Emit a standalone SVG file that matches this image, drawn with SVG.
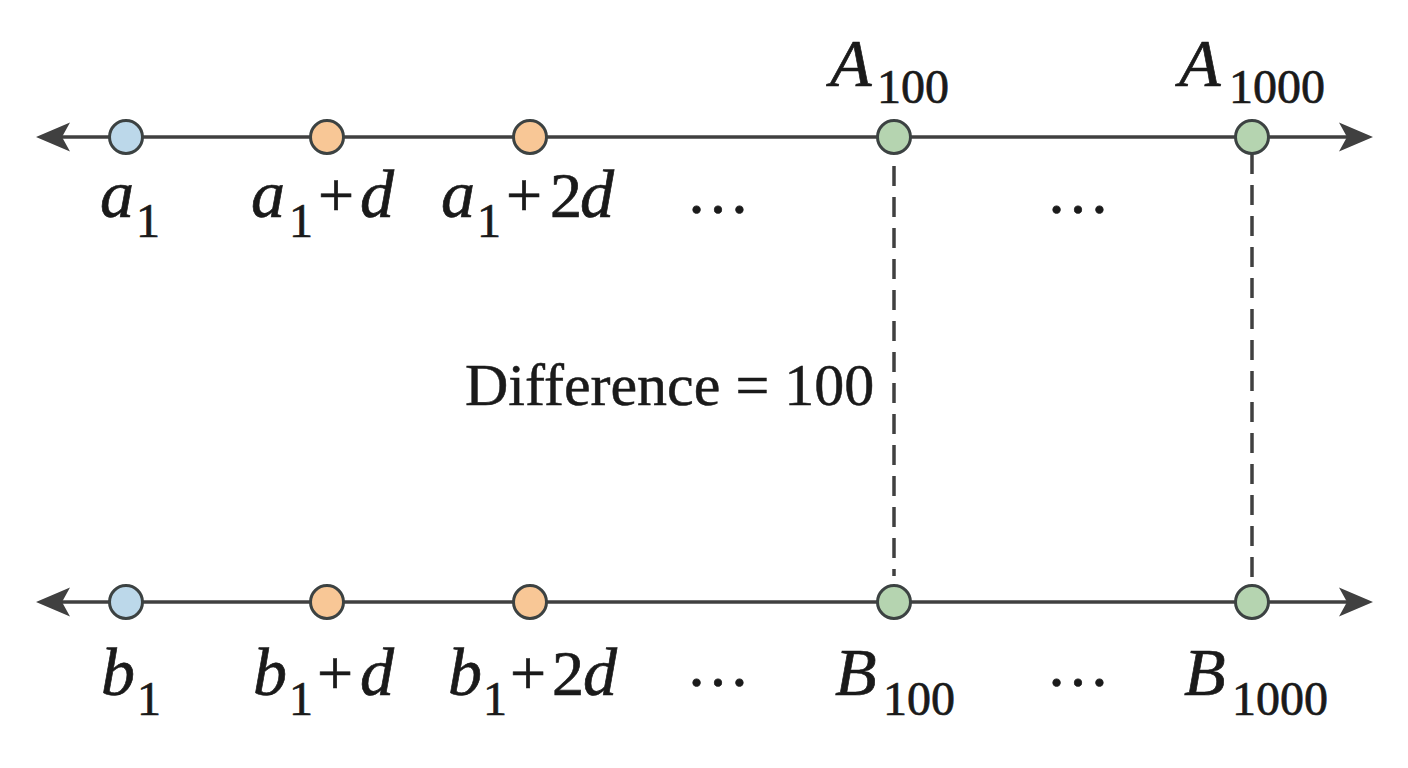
<svg xmlns="http://www.w3.org/2000/svg" width="1408" height="768" viewBox="0 0 1408 768">
<style>
.axis{stroke:#404040;stroke-width:3.5;fill:none}
.dash{stroke:#404040;stroke-width:3.5;stroke-dasharray:20 11;fill:none}
.head{fill:#404040}
.pt{stroke:#3c4242;stroke-width:3}
.blue{fill:#bcd8ea}
.orange{fill:#f8c796}
.green{fill:#b5d4b0}
text{fill:#1a1a1a;stroke:#1a1a1a;stroke-width:0.7}
.lab{font-size:64px}
.i{font-style:italic;font-size:68px}
.sub{font-size:48px;font-style:normal}
.plain{font-size:60px;stroke-width:0.5}
</style>
<rect width="1408" height="768" fill="#ffffff"/>
<g id="connectors">
<line class="axis" x1="60" y1="137" x2="1350" y2="137"/>
<polygon class="head" points="36,137 70,122.5 62,137 70,151.5"/>
<polygon class="head" points="1373,137 1339,122.5 1347,137 1339,151.5"/>
<line class="axis" x1="60" y1="602" x2="1350" y2="602"/>
<polygon class="head" points="36,602 70,587.5 62,602 70,616.5"/>
<polygon class="head" points="1373,602 1339,587.5 1347,602 1339,616.5"/>
<line class="dash" x1="894" y1="166" x2="894" y2="576"/>
<line class="dash" x1="1252" y1="154" x2="1252" y2="585"/>
</g>
<g id="labels" font-family="Liberation Serif, serif">
<g id="a1"><circle class="pt blue" cx="126" cy="137" r="16.5"/>
<text class="lab"><tspan class="i" x="100" y="217">a</tspan><tspan class="sub" x="136" y="237">1</tspan></text></g>
<g id="a1d"><circle class="pt orange" cx="327" cy="137" r="16.5"/>
<text class="lab"><tspan class="i" x="251" y="217">a</tspan><tspan class="sub" x="289" y="237">1</tspan><tspan x="318" y="217">+</tspan><tspan class="i" x="360" y="217">d</tspan></text></g>
<g id="a12d"><circle class="pt orange" cx="530" cy="137" r="16.5"/>
<text class="lab"><tspan class="i" x="441" y="217">a</tspan><tspan class="sub" x="477" y="237">1</tspan><tspan x="506" y="217">+</tspan><tspan x="550" y="217">2</tspan><tspan class="i" x="580" y="217">d</tspan></text></g>
<g id="dotsTop1"><text class="lab" x="686" y="213">…</text></g>
<g id="A100"><circle class="pt green" cx="894" cy="137" r="16.5"/>
<text class="lab"><tspan class="i" x="830" y="86">A</tspan><tspan class="sub" x="877" y="103">100</tspan></text></g>
<g id="dotsTop2"><text class="lab" x="1046" y="213">…</text></g>
<g id="A1000"><circle class="pt green" cx="1252" cy="137" r="16.5"/>
<text class="lab"><tspan class="i" x="1179" y="86">A</tspan><tspan class="sub" x="1229" y="103">1000</tspan></text></g>
<g id="diff"><text class="plain" x="465" y="405">Difference = 100</text></g>
<g id="b1"><circle class="pt blue" cx="126" cy="602" r="16.5"/>
<text class="lab"><tspan class="i" x="101" y="695">b</tspan><tspan class="sub" x="137" y="715">1</tspan></text></g>
<g id="b1d"><circle class="pt orange" cx="327" cy="602" r="16.5"/>
<text class="lab"><tspan class="i" x="253" y="695">b</tspan><tspan class="sub" x="289" y="715">1</tspan><tspan x="317" y="695">+</tspan><tspan class="i" x="360" y="695">d</tspan></text></g>
<g id="b12d"><circle class="pt orange" cx="530" cy="602" r="16.5"/>
<text class="lab"><tspan class="i" x="448" y="695">b</tspan><tspan class="sub" x="483" y="715">1</tspan><tspan x="510" y="695">+</tspan><tspan x="552" y="695">2</tspan><tspan class="i" x="583" y="695">d</tspan></text></g>
<g id="dotsBot1"><text class="lab" x="686" y="686">…</text></g>
<g id="B100"><circle class="pt green" cx="894" cy="602" r="16.5"/>
<text class="lab"><tspan class="i" x="835" y="695">B</tspan><tspan class="sub" x="883" y="715">100</tspan></text></g>
<g id="dotsBot2"><text class="lab" x="1046" y="686">…</text></g>
<g id="B1000"><circle class="pt green" cx="1252" cy="602" r="16.5"/>
<text class="lab"><tspan class="i" x="1184" y="695">B</tspan><tspan class="sub" x="1232" y="715">1000</tspan></text></g>
</g>
</svg>
